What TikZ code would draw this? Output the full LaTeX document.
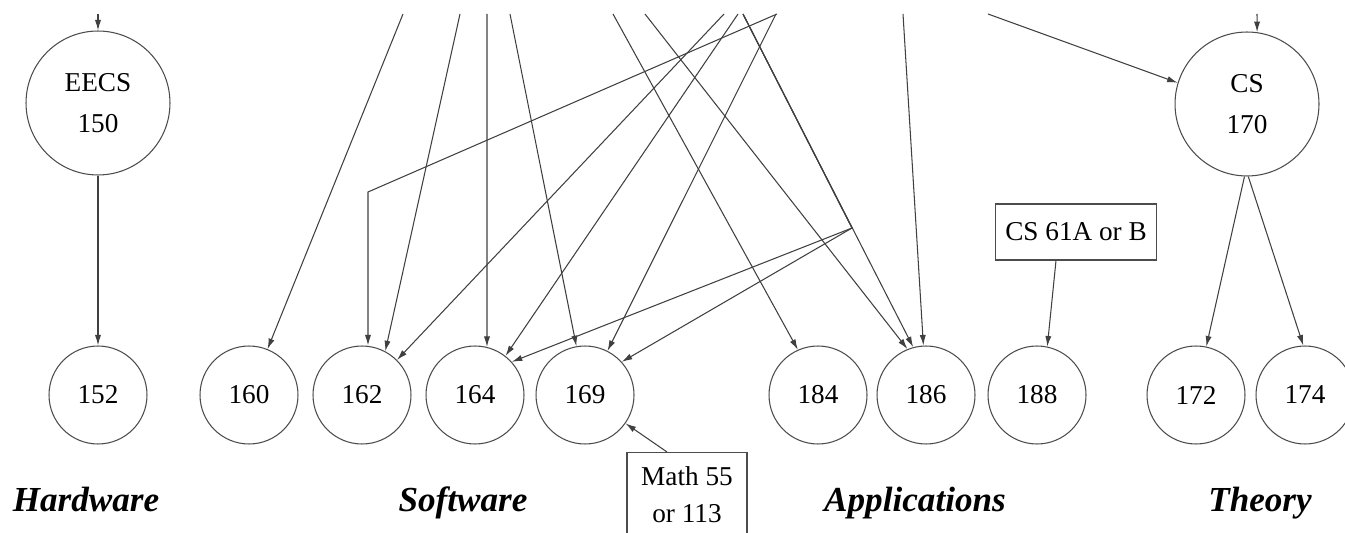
\documentclass[tikz,border=0pt]{standalone}
\usepackage{fontspec}
\setmainfont{Liberation Serif}
\usetikzlibrary{arrows.meta,calc}
\tikzset{course/.style={circle, draw=black!70, line width=0.6pt, minimum size=1.96cm, inner sep=0pt, align=center, font=\fontsize{15.5}{23}\selectfont}}
\tikzset{bigcourse/.style={course, minimum size=2.88cm}}
\tikzset{prereqbox/.style={rectangle, draw=black!70, line width=0.6pt, align=center, inner sep=2pt, font=\fontsize{15.5}{21}\selectfont}}
\tikzset{area/.style={anchor=base, font=\fontsize{20}{24}\selectfont\bfseries\itshape}}

\begin{document}
\begin{tikzpicture}[x=0.02cm, y=-0.02cm]
	\clip (0,0) rectangle (1345,533);
	% Nodes
		\node (eecs150) [bigcourse] at (98,103) {EECS\\150};
		\node (cs170) [bigcourse] at (1247,104) {CS\\170};

		\node (n152) [course] at (98,395) {152};
		\node (n160) [course] at (249,395) {160};
		\node (n162) [course] at (362,395) {162};
		\node (n164) [course] at (475,395) {164};
		\node (n169) [course] at (585,395) {169};
		\node (n184) [course] at (818,395) {184};
		\node (n186) [course] at (926,395) {186};
		\node (n188) [course] at (1037,395) {188};
		\node (n172) [course] at (1196,395) {172};
		\node (n174) [course] at (1305,395) {174};

		\node (cs61ab) [prereqbox, minimum width=3.22cm, minimum height=1.12cm] at (1076,232) {CS 61A or B};
		\node (math55) [prereqbox, minimum width=2.4cm, minimum height=1.7cm] at (687,495) {Math 55\\or 113};

		\node (hardware) [area] at (86,511) {Hardware};
		\node (software) [area] at (463,511) {Software};
		\node (applications) [area] at (915,511) {Applications};
		\node (theory) [area] at (1260,511) {Theory};

	% Free ends at the top edge, and bends
		\coordinate (top150) at (98,14);
		\coordinate (top170) at (1257,14);
		\coordinate (top170b) at (988,14);
		\coordinate (top160) at (403,14);
		\coordinate (top162a) at (460,14);
		\coordinate (top164a) at (487,14);
		\coordinate (top169a) at (510,14);
		\coordinate (top184) at (613,14);
		\coordinate (top186a) at (645,14);
		\coordinate (top162b) at (724,14);
		\coordinate (top164b) at (738,14);
		\coordinate (top186b) at (743,14);
		\coordinate (top169b) at (776,14);
		\coordinate (top162c) at (777,14);
		\coordinate (top186c) at (903,14);
		\coordinate (split) at (852,228);
		\coordinate (bend162) at (368,192);

		% Connectors
		\begin{scope}[-{Latex[length=6pt, width=3.5pt]}, line width=0.6pt, draw=black!75]

		\draw (top150) -- (eecs150);
		\draw (top170) -- (cs170.82);
		\draw (top170b) -- (cs170.163);

		\draw (top160) -- (n160.68);
		\draw (top162a) -- (n162.62);
		\draw (top164a) -- (n164.76);
		\draw (top169a) -- (n169.100);
		\draw (top184) -- (n184.114);
		\draw (top186a) -- (n186.112);
		\draw (top162b) -- (n162.45);
		\draw (top164b) -- (n164.52);
		\draw (top186b) -- (n186.105);
		\draw (top169b) -- (n169.63);
		\draw (top186c) -- (n186.93);

		\draw (top162c) -- (bend162) -- (bend162 |- n162.north);
		\draw (top186b) -- (split) -- (n164.42);
		\draw (top186b) -- (split) -- (n169.42);

		\draw (eecs150) -- (n152);
		\draw (cs170.-92) -- (n172.78);
		\draw (cs170.-89) -- (n174.92);

		\draw ($(cs61ab.south)+(-20,0)$) -- (n188.78);
		\draw ($(math55.north)+(-20,0)$) -- (n169.-35);

	\end{scope}

\end{tikzpicture}
\end{document}
